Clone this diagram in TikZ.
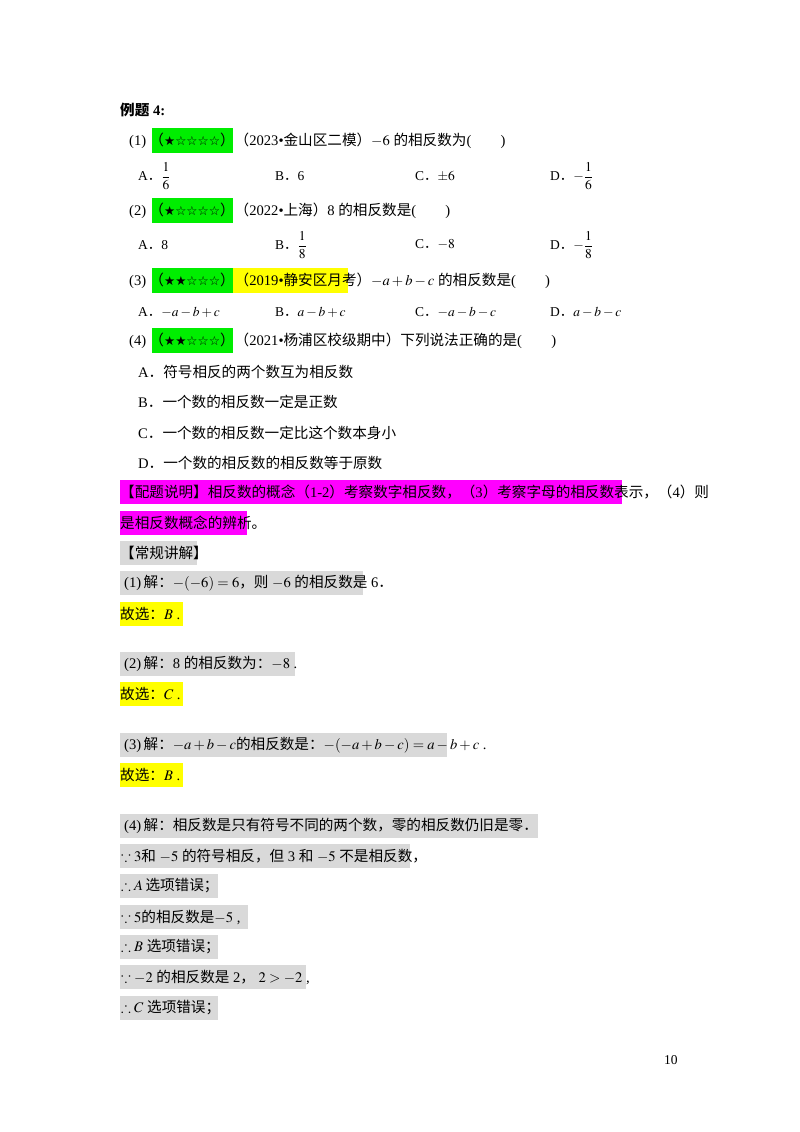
\documentclass[tikz,border=0pt]{standalone}
\usepackage{amsmath,amssymb}
\usepackage{mathptmx}
\usepackage{fontspec}
\setmainfont{Liberation Serif}
\newfontfamily\cjk{Noto Sans CJK SC}
\newfontfamily\sym{DejaVu Sans}
\newcommand{\zh}[1]{{\cjk #1}}
\newcommand{\st}[1]{{\sym\fontsize{12.5}{13}\selectfont #1}}
\newcommand{\dd}{\zh{．}}
\definecolor{hlgreen}{RGB}{0,238,0}
\definecolor{hlyellow}{RGB}{255,255,0}
\definecolor{hlmag}{RGB}{255,0,255}
\definecolor{hlgray}{RGB}{217,217,217}
\begin{document}
\begin{tikzpicture}[x=1pt,y=-1pt,
  t/.style={anchor=west,inner sep=0pt,font=\fontsize{14.6}{16}\selectfont},
  o/.style={anchor=west,inner sep=0pt,font=\fontsize{13.5}{15}\selectfont}]
\useasboundingbox[fill=white] (0,0) rectangle (800,1132);
% highlight boxes
\fill[hlgreen] (152,128) rectangle (233,153);
\fill[hlgreen] (152,198) rectangle (233,223);
\fill[hlgreen] (152,268) rectangle (233,293);
\fill[hlyellow] (233,268) rectangle (348,293);
\fill[hlgreen] (152,328) rectangle (233,353);
\fill[hlmag] (120,480) rectangle (622,504);
\fill[hlmag] (120,511) rectangle (247,535);
\foreach \a/\b/\w in {541/565/197,571/595/363,652/676/295,733/757/447,814/838/538,844/868/410,874/898/218,905/929/248,935/959/218,965/989/306,996/1020/218}
  \fill[hlgray] (120,\a) rectangle (\w,\b);
\foreach \a in {602,682,763} \fill[hlyellow] (120,\a) rectangle (183,\a+24);

\node[t] (title) at (120,110) {\zh{\bfseries 例题} \textbf{4:}};
\node[t] (q1) at (129,141) {(1)\zh{\ （}\st{★☆☆☆☆}\zh{）（}2023•\zh{金山区二模）}$-6$ \zh{的相反数为}(\qquad)};
\node[o] (q1a) at (138,176) {A\dd$\dfrac{1}{6}$};
\node[o] (q1b) at (275,176) {B\dd6};
\node[o] (q1c) at (415,176) {C\dd$\pm6$};
\node[o] (q1d) at (550,176) {D\dd$-\dfrac{1}{6}$};
\node[t] (q2) at (129,211) {(2)\zh{\ （}\st{★☆☆☆☆}\zh{）（}2022•\zh{上海）}8 \zh{的相反数是}(\qquad)};
\node[o] (q2a) at (138,245) {A\dd8};
\node[o] (q2b) at (275,245) {B\dd$\dfrac{1}{8}$};
\node[o] (q2c) at (415,245) {C\dd$-8$};
\node[o] (q2d) at (550,245) {D\dd$-\dfrac{1}{8}$};
\node[t] (q3) at (129,281) {(3)\zh{\ （}\st{★★☆☆☆}\zh{）（}2019•\zh{静安区月考）}$-a+b-c$ \zh{的相反数是}(\qquad)};
\node[o] (q3a) at (138,312) {A\dd$-a-b+c$};
\node[o] (q3b) at (275,312) {B\dd$a-b+c$};
\node[o] (q3c) at (415,312) {C\dd$-a-b-c$};
\node[o] (q3d) at (550,312) {D\dd$a-b-c$};
\node[t] (q4) at (129,341) {(4)\zh{\ （}\st{★★☆☆☆}\zh{）（}2021•\zh{杨浦区校级期中）下列说法正确的是}(\qquad)};
\node[t] (q4a) at (138,372) {A\dd\zh{符号相反的两个数互为相反数}};
\node[t] (q4b) at (138,402) {B\dd\zh{一个数的相反数一定是正数}};
\node[t] (q4c) at (138,433) {C\dd\zh{一个数的相反数一定比这个数本身小}};
\node[t] (q4d) at (138,463) {D\dd\zh{一个数的相反数的相反数等于原数}};
\node[t] (m1) at (120,492) {\zh{【配题说明】相反数的概念（}1-2\zh{）考察数字相反数，（}3\zh{）考察字母的相反数表示，（}4\zh{）则}};
\node[t] (m2) at (120,523) {\zh{是相反数概念的辨析。}};
\node[t] (s0) at (120,553) {\zh{【常规讲解】}};
\node[t] (s1) at (124,583) {(1)\,\zh{解：}$-(-6)=6$\zh{，则} $-6$ \zh{的相反数是} 6\dd};
\node[t] (g1) at (120,614) {\zh{故选：}$B$ .};
\node[t] (s2) at (124,664) {(2)\,\zh{解：}8 \zh{的相反数为：}$-8$ .};
\node[t] (g2) at (120,694) {\zh{故选：}$C$ .};
\node[t] (s3) at (124,745) {(3)\,\zh{解：}$-a+b-c$\zh{的相反数是：}$-(-a+b-c)=a-b+c$ .};
\node[t] (g3) at (120,775) {\zh{故选：}$B$ .};
\node[t] (s4) at (124,826) {(4)\,\zh{解：相反数是只有符号不同的两个数，零的相反数仍旧是零}\dd};
\node[t] (s5) at (121,856) {$\because3$\zh{和} $-5$ \zh{的符号相反，但} 3 \zh{和} $-5$ \zh{不是相反数，}};
\node[t] (s6) at (121,886) {$\therefore A$\,\zh{选项错误；}};
\node[t] (s7) at (121,917) {$\because5$\zh{的相反数是}$-5$ ,};
\node[t] (s8) at (121,947) {$\therefore B$ \zh{选项错误；}};
\node[t] (s9) at (121,977) {$\because-2$ \zh{的相反数是} 2\zh{，} $2>-2$ ,};
\node[t] (s10) at (121,1008) {$\therefore C$ \zh{选项错误；}};
\node[o] (pg) at (664,1060) {10};
\end{tikzpicture}
\end{document}
